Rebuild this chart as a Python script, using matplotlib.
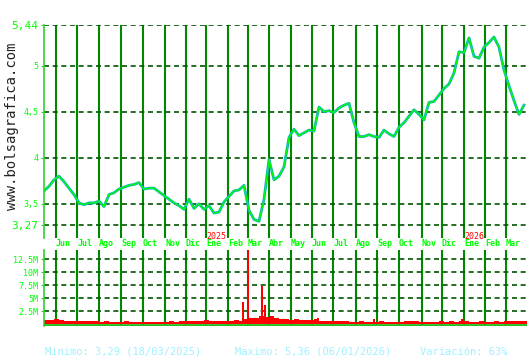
import numpy as np
import matplotlib
matplotlib.use('Agg')
import matplotlib.pyplot as plt

# Cotizacion (cierre semanal aprox., cada 5 sesiones)
precio = [3.64, 3.69, 3.76, 3.80, 3.74, 3.67, 3.60, 3.51, 3.49, 3.51,
          3.51, 3.53, 3.47, 3.60, 3.62, 3.66, 3.68, 3.70, 3.71, 3.73,
          3.66, 3.67, 3.67, 3.63, 3.59, 3.55, 3.51, 3.48, 3.44, 3.55,
          3.45, 3.50, 3.44, 3.48, 3.40, 3.41, 3.52, 3.58, 3.64, 3.65,
          3.70, 3.43, 3.33, 3.31, 3.55, 3.98, 3.76, 3.80, 3.90, 4.22,
          4.31, 4.24, 4.27, 4.30, 4.29, 4.55, 4.50, 4.51, 4.49, 4.54,
          4.57, 4.59, 4.38, 4.23, 4.23, 4.25, 4.23, 4.22, 4.30, 4.26,
          4.23, 4.33, 4.38, 4.45, 4.52, 4.47, 4.41, 4.60, 4.61, 4.68,
          4.75, 4.80, 4.92, 5.15, 5.14, 5.30, 5.10, 5.08, 5.20, 5.25,
          5.31, 5.20, 4.95, 4.78, 4.62, 4.47, 4.57]

# Volumen semanal (millones)
volumen = [0.8, 0.9, 1.0, 0.8, 0.7, 0.7, 0.6, 0.7, 0.6, 0.7,
           0.6, 0.5, 0.6, 0.5, 0.5, 0.5, 0.6, 0.5, 0.5, 0.4,
           0.5, 0.4, 0.5, 0.5, 0.5, 0.6, 0.5, 0.6, 0.6, 0.7,
           0.7, 0.6, 0.8, 0.7, 0.6, 0.6, 0.7, 0.7, 0.8, 0.7,
           1.1, 1.2, 1.3, 1.5, 1.4, 1.6, 1.2, 1.1, 1.0, 0.9,
           1.0, 0.8, 0.8, 0.8, 1.0, 0.7, 0.7, 0.6, 0.6, 0.7,
           0.6, 0.5, 0.5, 0.6, 0.5, 0.5, 0.5, 0.6, 0.5, 0.5,
           0.5, 0.5, 0.6, 0.6, 0.6, 0.5, 0.5, 0.5, 0.5, 0.6,
           0.5, 0.6, 0.5, 0.6, 0.7, 0.5, 0.5, 0.6, 0.5, 0.5,
           0.6, 0.5, 0.6, 0.7, 0.7, 0.6, 0.6]

# picos de volumen (sesion, millones)
picos_sesion = [199, 204, 218, 221, 274, 330, 418]
picos_vol = [4.35, 15.0, 7.4, 3.7, 1.3, 1.1, 1.1]

# inicio de cada mes (indice de sesion)
meses = ['Jun', 'Jul', 'Ago', 'Sep', 'Oct', 'Nov', 'Dic', 'Ene', 'Feb', 'Mar', 'Abr',
         'May', 'Jun', 'Jul', 'Ago', 'Sep', 'Oct', 'Nov', 'Dic', 'Ene', 'Feb', 'Mar']
inicio_mes = [12, 33, 55, 77, 99, 121, 142, 162, 184, 204, 225,
              247, 268, 289, 312, 333, 355, 378, 398, 420, 441, 462]
anios = {'2025': 162, '2026': 420}

precio_ticks = [5.44, 5, 4.5, 4, 3.5, 3.27]
precio_labels = ['5,44', '5', '4,5', '4', '3,5', '3,27']
vol_ticks = [2.5, 5, 7.5, 10, 12.5]
vol_labels = ['2.5M', '5M', '7.5M', '10M', '12.5M']

sesion = np.arange(len(precio)) * 5

LIMA = '#00ff00'
VERDE = '#008800'
OSCURO = '#005500'
MONO = 'DejaVu Sans Mono'

fig = plt.figure(figsize=(5.3, 3.6), dpi=100)
ax = fig.add_axes([44 / 530, 1 - 238 / 360, 483 / 530, 213 / 360])
av = fig.add_axes([44 / 530, 1 - 326 / 360, 483 / 530, 76 / 360])

for a in (ax, av):
    a.set_xlim(0, 483)
    for m in inicio_mes:
        a.axvline(m, color=VERDE, lw=1.5, zorder=1)
    for s in ['top', 'right', 'bottom']:
        a.spines[s].set_visible(False)
    a.spines['left'].set_color('#30d030')
    a.spines['left'].set_linewidth(1.2)
    a.set_xticks([])
    a.tick_params(axis='y', length=2, color='#30d030', pad=2)

# precio
ax.set_ylim(3.129, 5.44)
for v in precio_ticks:
    ax.axhline(v, color=OSCURO, lw=1.2, dashes=(3, 2.2), zorder=1)
ax.plot(sesion, precio, color='#10b0c0', lw=2.0, zorder=2)
ax.plot(sesion, precio, color=LIMA, lw=0.9, zorder=3)
ax.set_yticks(precio_ticks)
ax.set_yticklabels(precio_labels, family=MONO, color=LIMA)
for lab in ax.get_yticklabels():
    lab.set_fontsize(8 if lab.get_text() in ('5,44', '3,27') else 6)

# meses
for m, nombre in zip(inicio_mes, meses):
    ax.text(m, 3.129 - 6 / 92.17, nombre, color=LIMA, family=MONO, fontsize=6,
            ha='left', va='center', clip_on=False, fontweight='bold')
for anio, m in anios.items():
    ax.text(m, 3.129 + 2 / 92.17, anio, color='#ff0000', family=MONO, fontsize=6,
            ha='left', va='center', clip_on=False)

# volumen
av.set_ylim(-0.33, 14.3)
for v in vol_ticks:
    av.axhline(v, color=OSCURO, lw=1.2, dashes=(3, 2.2), zorder=1)
av.bar(sesion, volumen, width=5, align='edge', color='#ff0000', zorder=2)
av.bar(picos_sesion, picos_vol, width=1.2, color='#ff0000', zorder=2)
av.axhline(-0.2, color='#20c020', lw=2, zorder=3)
av.set_yticks(vol_ticks)
av.set_yticklabels(vol_labels, family=MONO, color=LIMA, fontsize=6)

fig.text(12 / 530, 1 - 126 / 360, 'www.bolsagrafica.com', rotation=90, family=MONO,
         fontsize=10, color='#222222', ha='center', va='center')

pie = '#a0f0ff'
fig.text(45 / 530, 1 - 352 / 360, 'Minimo: 3,29 (18/03/2025)', family=MONO,
         fontsize=7.5, color=pie, va='center')
fig.text(235 / 530, 1 - 352 / 360, 'Maximo: 5,36 (06/01/2026)', family=MONO,
         fontsize=7.5, color=pie, va='center')
fig.text(420 / 530, 1 - 352 / 360, 'Variación: 63%', family=MONO,
         fontsize=7.5, color=pie, va='center')

fig.savefig('out.png', dpi=100)
